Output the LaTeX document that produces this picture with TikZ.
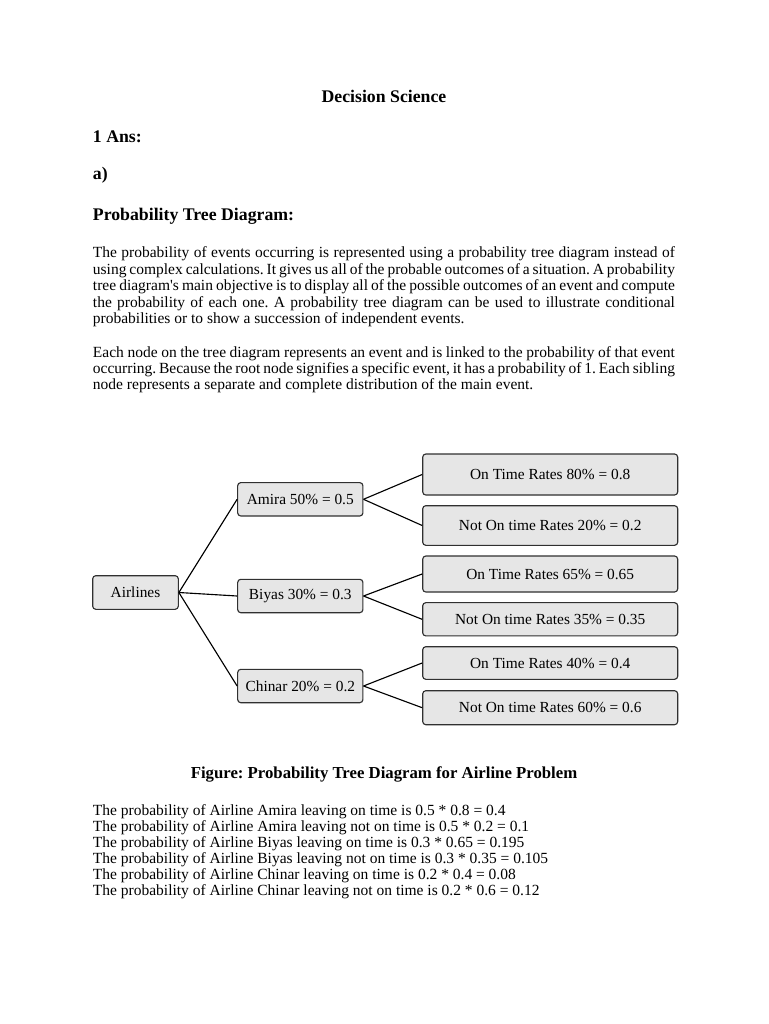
\documentclass[tikz,border=0pt]{standalone}
\usepackage{fontspec}
\setmainfont{Liberation Serif}
\usetikzlibrary{positioning}
\frenchspacing
\definecolor{boxfill}{HTML}{E6E6E6}
\definecolor{boxline}{HTML}{303030}
\tikzset{
  every picture/.style={x=0.8pt, y=-0.8pt},
  ev/.style={draw=boxline, fill=boxfill, rounded corners=2.5pt, line width=0.9pt, inner sep=0pt, align=center, font=\fontsize{12.3}{14}\selectfont},
  link/.style={draw=black, line width=0.9pt},
  head/.style={anchor=base west, inner sep=0pt, font=\fontsize{14.2}{16}\selectfont\bfseries},
  body/.style={anchor=base west, inner sep=0pt, font=\fontsize{12.4}{14}\selectfont},
}

\begin{document}
\begin{tikzpicture}
  \fill[white] (0,0) rectangle (768,1024);
  \useasboundingbox (0,0) rectangle (768,1024);
  % headings
  \node[head, anchor=base] (title) at (384,103) {Decision Science};
  \node[head] (ans) at (92.7,142.5) {1 Ans:};
  \node[head] (parta) at (92.7,180) {a)};
  \node[head] (ptd) at (92.7,220.5) {Probability Tree Diagram:};
  % first paragraph
  \foreach \l [count=\k] in {
    {The probability of events occurring is represented using a probability tree diagram instead of},
    {using complex calculations. It gives us all of the probable outcomes of a situation. A probability},
    {tree diagram\textquotesingle s main objective is to display all of the possible outcomes of an event and compute},
    {the probability of each one. A probability tree diagram can be used to illustrate conditional}}
    \node[body] (pa\k) at (92.7,{257.7+16.5*(\k-1)}) {\makebox[465.6pt][s]{\l}};
  \node[body] (pa5) at (92.7,323.7) {probabilities or to show a succession of independent events.};
  % second paragraph
  \foreach \l [count=\k] in {
    {Each node on the tree diagram represents an event and is linked to the probability of that event},
    {occurring. Because the root node signifies a specific event, it has a probability of 1. Each sibling}}
    \node[body] (pb\k) at (92.7,{357.7+16*(\k-1)}) {\makebox[465.6pt][s]{\l}};
  \node[body] (pb3) at (92.7,389.7) {node represents a separate and complete distribution of the main event.};
  % tree
  \node[ev, minimum width=68.5pt, minimum height=26.9pt] (air) at (135.5,592.5) {Airlines};
  \foreach \n/\t/\y in {amira/Amira 50\% = 0.5/499.3, biyas/Biyas 30\% = 0.3/596, chinar/Chinar 20\% = 0.2/686} {
    \node[ev, minimum width=100.2pt, minimum height=26.7pt] (\n) at (300.3,\y) {\t};
    \draw[link] (air.east) -- (\n.west);
  }
  \foreach \n/\t/\y/\h/\p in {
    r1/On Time Rates 80\% = 0.8/474.5/32.8/amira,
    r2/Not On time Rates 20\% = 0.2/525.5/31.7/amira,
    r3/On Time Rates 65\% = 0.65/574/28.8/biyas,
    r4/Not On time Rates 35\% = 0.35/619.3/26.6/biyas,
    r5/On Time Rates 40\% = 0.4/663/26.1/chinar,
    r6/Not On time Rates 60\% = 0.6/707.7/27.2/chinar} {
    \node[ev, minimum width=204pt, minimum height=\h pt] (\n) at (550.2,\y) {\t};
    \draw[link] (\p.east) -- (\n.west);
  }
  % caption and results
  \node[head, anchor=base, font=\fontsize{13.4}{15}\selectfont\bfseries] (cap) at (384,778.3) {Figure: Probability Tree Diagram for Airline Problem};
  \foreach \l [count=\k] in {
    {Amira leaving on time is 0.5 * 0.8 = 0.4},
    {Amira leaving not on time is 0.5 * 0.2 = 0.1},
    {Biyas leaving on time is 0.3 * 0.65 = 0.195},
    {Biyas leaving not on time is 0.3 * 0.35 = 0.105},
    {Chinar leaving on time is 0.2 * 0.4 = 0.08},
    {Chinar leaving not on time is 0.2 * 0.6 = 0.12}}
    \node[body] (res\k) at (92.7,{815+16*(\k-1)}) {The probability of Airline \l};
\end{tikzpicture}
\end{document}
